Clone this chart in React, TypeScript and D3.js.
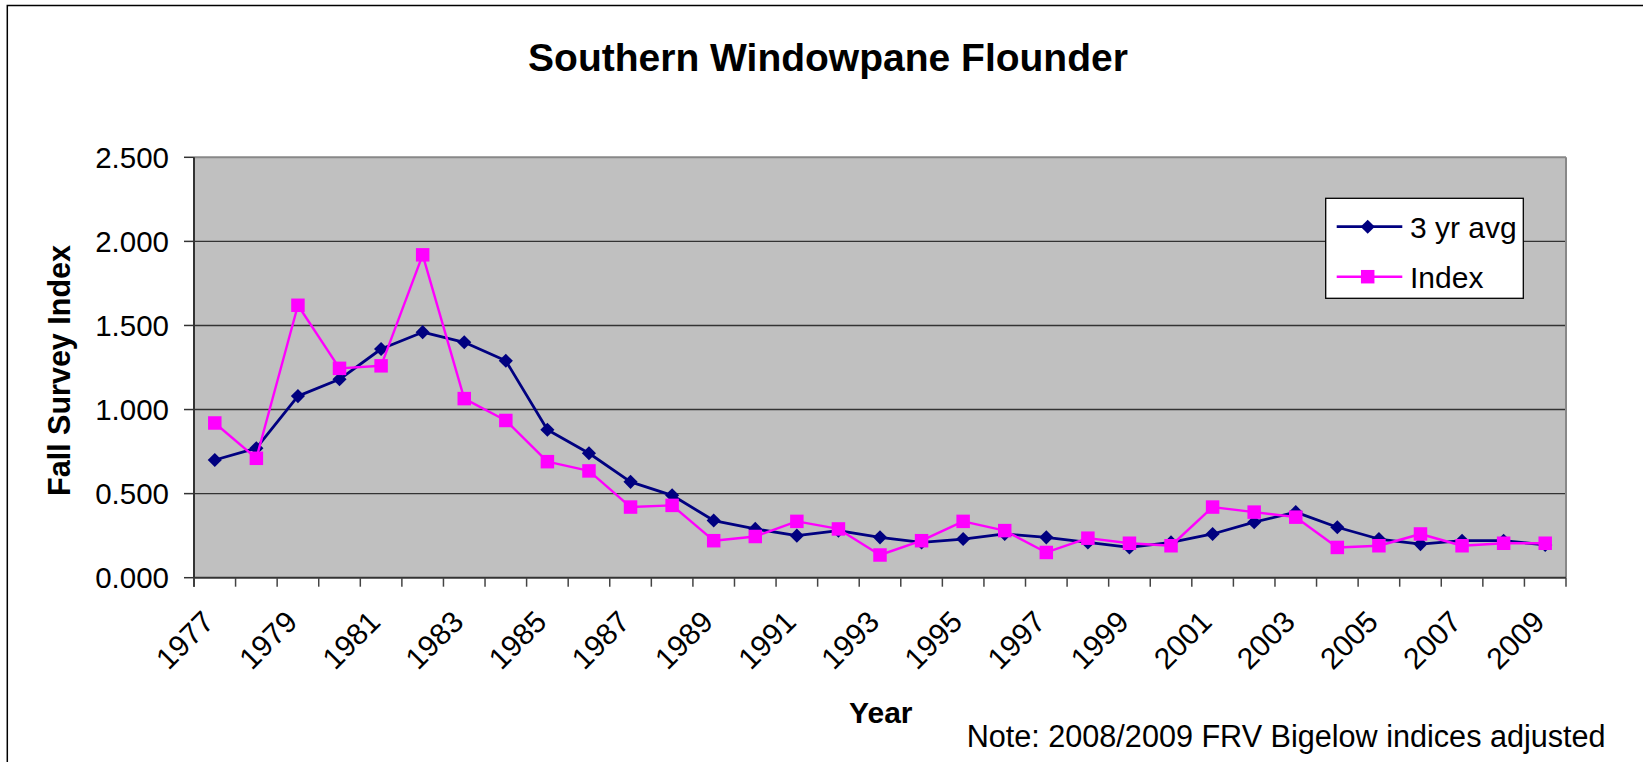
import * as d3 from 'd3';

const years = [
  '1977', '1978', '1979', '1980', '1981', '1982', '1983', '1984', '1985', '1986', '1987',
  '1988', '1989', '1990', '1991', '1992', '1993', '1994', '1995', '1996', '1997', '1998',
  '1999', '2000', '2001', '2002', '2003', '2004', '2005', '2006', '2007', '2008', '2009'
];

// 3 yr avg (navy diamonds)
const avg3 = [
  0.7, 0.77, 1.08, 1.18, 1.36, 1.46, 1.4, 1.29, 0.88, 0.74, 0.57,
  0.49, 0.34, 0.29, 0.25, 0.28, 0.24, 0.21, 0.23, 0.26, 0.24, 0.21,
  0.18, 0.21, 0.26, 0.33, 0.39, 0.3, 0.23, 0.2, 0.22, 0.22, 0.195
];

// Index (magenta squares)
const index = [
  0.92, 0.71, 1.62, 1.245, 1.26, 1.92, 1.065, 0.935, 0.69, 0.635, 0.42,
  0.43, 0.22, 0.245, 0.335, 0.29, 0.135, 0.22, 0.335, 0.28, 0.15, 0.235,
  0.205, 0.19, 0.42, 0.39, 0.36, 0.18, 0.19, 0.26, 0.19, 0.205, 0.205
];

const yTicks = [0, 0.5, 1, 1.5, 2, 2.5];
const labelYears = years.filter((_, i) => i % 2 === 0);

const seriesList = [
  { name: '3 yr avg', values: avg3, color: '#000080', marker: 'diamond', width: 2.8 },
  { name: 'Index', values: index, color: '#FF00FF', marker: 'square', width: 2.4 }
];

const FONT = '"Liberation Sans", Arial, sans-serif';

export default function App() {
  const width = 1643;
  const height = 762;
  const plot = { left: 194, right: 1566, top: 157.3, bottom: 577.7 };

  const x = d3.scaleBand().domain(years).range([plot.left, plot.right]).padding(0);
  const y = d3.scaleLinear().domain([0, 2.5]).range([plot.bottom, plot.top]);
  const cx = (yr) => x(yr) + x.bandwidth() / 2;

  const line = d3
    .line()
    .x((d) => cx(d[0]))
    .y((d) => y(d[1]));

  const diamond = d3.symbol(d3.symbolSquare, 100)();
  const square = d3.symbol(d3.symbolSquare, 182)();

  const boundaries = years.map((yr) => x(yr)).concat([plot.right]);
  const fmt = d3.format('.3f');

  const legend = { x: 1325.7, y: 198.3, w: 197.6, h: 100 };

  return (
    <svg
      width={width}
      height={height}
      style={{ position: 'absolute', left: 0, top: 0, background: '#fff' }}
      fontFamily={FONT}
    >
      {/* chart area border (only top/left are in frame) */}
      <rect x={7.3} y={5.5} width={1700} height={800} fill='#fff' stroke='#000' strokeWidth={1.5} />

      <text x={828} y={71} textAnchor='middle' fontSize={39} fontWeight='bold'>
        Southern Windowpane Flounder
      </text>

      {/* plot area */}
      <rect
        x={plot.left}
        y={plot.top}
        width={plot.right - plot.left}
        height={plot.bottom - plot.top}
        fill='#C0C0C0'
      />
      {yTicks
        .filter((t) => t > 0 && t < 2.5)
        .map((t) => (
          <line key={t} x1={plot.left} x2={plot.right} y1={y(t)} y2={y(t)} stroke='#333' strokeWidth={1.4} />
        ))}
      <line x1={plot.left} x2={plot.right} y1={plot.top} y2={plot.top} stroke='#888' strokeWidth={2} />
      <line x1={plot.right} x2={plot.right} y1={plot.top} y2={plot.bottom} stroke='#888' strokeWidth={2} />

      {/* y axis */}
      <line x1={plot.left} x2={plot.left} y1={plot.top} y2={plot.bottom + 9} stroke='#333' strokeWidth={2} />
      {yTicks.map((t) => (
        <g key={t}>
          <line x1={plot.left - 10} x2={plot.left} y1={y(t)} y2={y(t)} stroke='#333' strokeWidth={1.5} />
          <text x={169} y={y(t)} dy='0.36em' textAnchor='end' fontSize={29.5}>
            {fmt(t)}
          </text>
        </g>
      ))}
      <text transform='translate(70,370.5) rotate(-90)' textAnchor='middle' fontSize={30.5} fontWeight='bold'>
        Fall Survey Index
      </text>

      {/* x axis */}
      <line x1={plot.left} x2={plot.right} y1={plot.bottom} y2={plot.bottom} stroke='#333' strokeWidth={2} />
      {boundaries.map((bx, i) => (
        <line key={i} x1={bx} x2={bx} y1={plot.bottom} y2={plot.bottom + 9} stroke='#444' strokeWidth={1.5} />
      ))}
      {labelYears.map((yr) => (
        <text
          key={yr}
          transform={`translate(${cx(yr) + 1},${plot.bottom + 46}) rotate(-45)`}
          textAnchor='end'
          fontSize={30}
        >
          {yr}
        </text>
      ))}
      <text x={880.8} y={723.3} textAnchor='middle' fontSize={30} fontWeight='bold'>
        Year
      </text>
      <text x={966.7} y={747.3} fontSize={30.6}>
        Note: 2008/2009 FRV Bigelow indices adjusted
      </text>

      {/* series */}
      {seriesList.map((s) => (
        <g key={s.name}>
          <path
            d={line(years.map((yr, i) => [yr, s.values[i]]))}
            fill='none'
            stroke={s.color}
            strokeWidth={s.width}
            strokeLinejoin='round'
          />
          {years.map((yr, i) => (
            <path
              key={yr}
              d={s.marker === 'diamond' ? diamond : square}
              transform={`translate(${cx(yr)},${y(s.values[i])})${s.marker === 'diamond' ? ' rotate(45)' : ''}`}
              fill={s.color}
            />
          ))}
        </g>
      ))}

      {/* legend */}
      <rect x={legend.x} y={legend.y} width={legend.w} height={legend.h} fill='#fff' stroke='#000' strokeWidth={1.3} />
      {seriesList.map((s, i) => {
        const ly = 226.7 + i * 50;
        return (
          <g key={s.name}>
            <line x1={1336.7} x2={1402.3} y1={ly} y2={ly} stroke={s.color} strokeWidth={s.width} />
            <path
              d={s.marker === 'diamond' ? diamond : square}
              transform={`translate(1367.7,${ly})${s.marker === 'diamond' ? ' rotate(45)' : ''}`}
              fill={s.color}
            />
            <text x={1410} y={ly} dy='0.36em' fontSize={30}>
              {s.name}
            </text>
          </g>
        );
      })}
    </svg>
  );
}
